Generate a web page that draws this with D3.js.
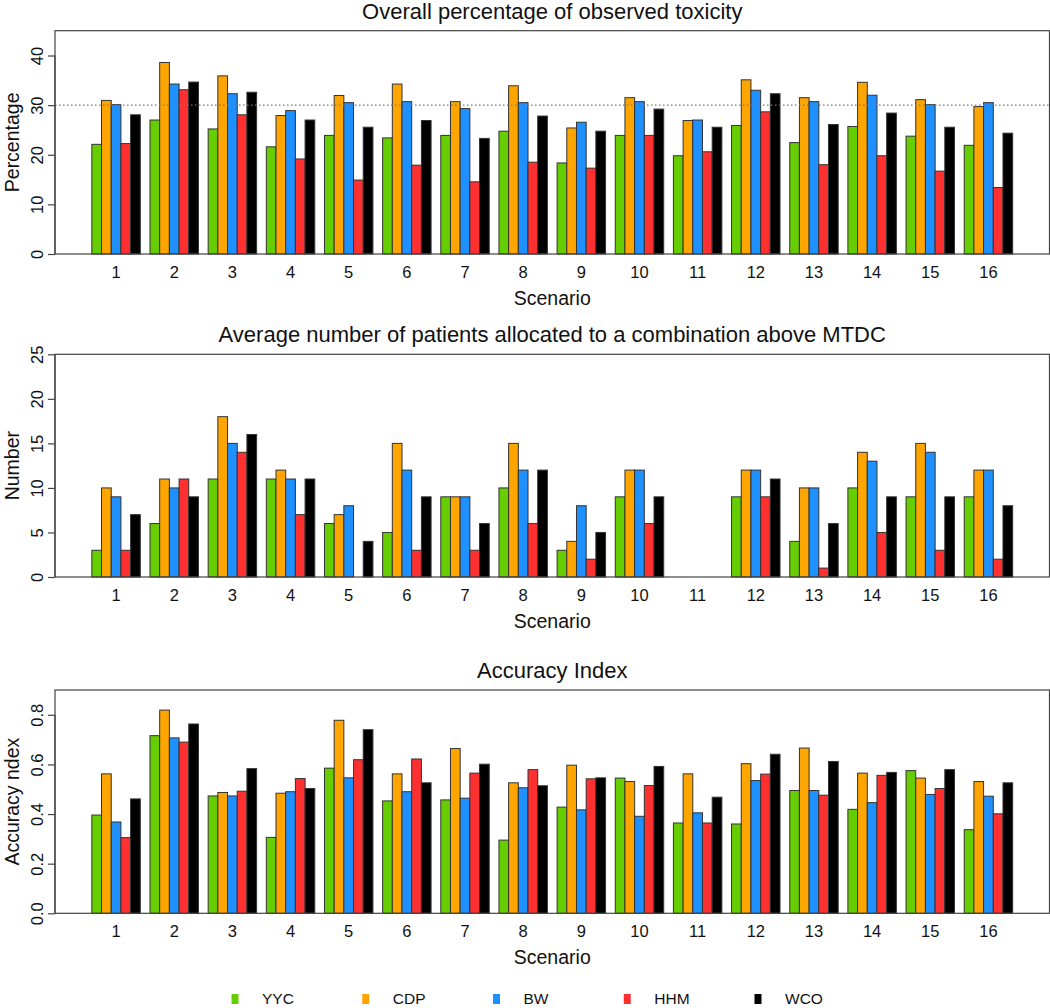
<!DOCTYPE html>
<html>
<head>
<meta charset="utf-8">
<script src="https://cdn.jsdelivr.net/npm/d3@7"></script>
<style>
  html, body { margin: 0; padding: 0; background: #fff; }
  svg { display: block; font-family: "Liberation Sans", Arial, Helvetica, sans-serif; }
</style>
</head>
<body>
<div id="chart"></div>
<script>
// ---------- data ----------
const scenarios = ["1","2","3","4","5","6","7","8","9","10","11","12","13","14","15","16"];
const seriesNames = ["YYC","CDP","BW","HHM","WCO"];
const seriesColors = ["#66CD00","#FFA500","#1E90FF","#FF3030","#000000"];

const toxYYC = [22.1,27.0,25.2,21.6,23.9,23.4,23.9,24.75,18.35,23.9,19.8,25.9,22.45,25.7,23.75,21.9];
const toxCDP = [30.95,38.6,35.9,27.9,31.95,34.25,30.7,33.9,25.4,31.5,26.9,35.1,31.5,34.6,31.1,29.7];
const toxBW  = [30.1,34.25,32.3,28.9,30.5,30.7,29.3,30.5,26.55,30.7,27.0,33.0,30.7,32.0,30.1,30.5];
const toxHHM = [22.25,33.1,28.05,19.15,14.9,17.9,14.55,18.5,17.3,23.9,20.6,28.65,18.0,19.8,16.7,13.4];
const toxWCO = [28.05,34.65,32.6,27.0,25.55,26.9,23.3,27.8,24.75,29.2,25.55,32.3,26.1,28.4,25.55,24.35];

const numYYC = [3,6,11,11,6,5,9,10,3,9,0,9,4,10,9,9];
const numCDP = [10,11,18,12,7,15,9,15,4,12,0,12,10,14,15,12];
const numBW  = [9,10,15,11,8,12,9,12,8,12,0,12,10,13,14,12];
const numHHM = [3,11,14,7,0,3,3,6,2,6,0,9,1,5,3,2];
const numWCO = [7,9,16,11,4,9,6,12,5,9,0,11,6,9,9,8];

const accYYC = [0.396,0.716,0.473,0.306,0.585,0.453,0.457,0.295,0.428,0.545,0.364,0.360,0.495,0.419,0.575,0.337];
const accCDP = [0.562,0.819,0.487,0.484,0.778,0.562,0.664,0.526,0.597,0.531,0.562,0.603,0.666,0.565,0.545,0.531];
const accBW  = [0.368,0.707,0.473,0.490,0.546,0.490,0.464,0.506,0.417,0.391,0.405,0.535,0.495,0.446,0.479,0.472];
const accHHM = [0.305,0.690,0.492,0.543,0.619,0.622,0.565,0.579,0.542,0.515,0.364,0.561,0.476,0.556,0.503,0.401];
const accWCO = [0.461,0.763,0.583,0.503,0.740,0.526,0.601,0.514,0.546,0.592,0.468,0.641,0.612,0.568,0.579,0.526];

const toxTicks = [0,10,20,30,40];
const numTicks = [0,5,10,15,20,25];
const accTicks = [0,0.2,0.4,0.6,0.8];

const panels = [
  { title: "Overall percentage of observed toxicity", ylab: "Percentage", ymax: 45,
    ticks: toxTicks, fmt: d3.format("d"), series: [toxYYC,toxCDP,toxBW,toxHHM,toxWCO],
    top: 30.7, bottom: 254, refLine: 30 },
  { title: "Average number of patients allocated to a combination above MTDC", ylab: "Number", ymax: 25,
    ticks: numTicks, fmt: d3.format("d"), series: [numYYC,numCDP,numBW,numHHM,numWCO],
    top: 354.3, bottom: 577, refLine: null },
  { title: "Accuracy Index", ylab: "Accuracy ndex", ymax: 0.9,
    ticks: accTicks, fmt: d3.format(".1f"), series: [accYYC,accCDP,accBW,accHHM,accWCO],
    top: 690, bottom: 913.3, refLine: null }
];

// ---------- layout ----------
const W = 1050, H = 1008;
const boxL = 55, boxR = 1049.5;
const svg = d3.select("#chart").append("svg").attr("width", W).attr("height", H);

const x = d3.scaleBand().domain(scenarios).range([boxL, boxR])
  .paddingInner(1/6).paddingOuter(3.8/6);
const xs = d3.scaleBand().domain(seriesNames).range([0, x.bandwidth()]).padding(0);
const color = d3.scaleOrdinal().domain(seriesNames).range(seriesColors);
const cx = (boxL + boxR) / 2;

panels.forEach(p => {
  const y = d3.scaleLinear().domain([0, p.ymax]).range([p.bottom, p.top]);
  const g = svg.append("g");

  // bars
  scenarios.forEach((sc, i) => {
    const grp = g.append("g").attr("transform", `translate(${x(sc)},0)`);
    seriesNames.forEach((s, k) => {
      const v = p.series[k][i];
      grp.append("rect")
        .attr("x", xs(s))
        .attr("y", y(v))
        .attr("width", xs.bandwidth())
        .attr("height", y(0) - y(v))
        .attr("fill", color(s))
        .attr("stroke", "#333")
        .attr("stroke-width", 1);
    });
  });

  // reference line
  if (p.refLine !== null) {
    g.append("line")
      .attr("x1", boxL).attr("x2", boxR)
      .attr("y1", y(p.refLine)).attr("y2", y(p.refLine))
      .attr("stroke", "#777").attr("stroke-width", 1.2)
      .attr("stroke-dasharray", "1.5,2.5");
  }

  // box
  g.append("rect")
    .attr("x", boxL).attr("y", p.top)
    .attr("width", boxR - boxL).attr("height", p.bottom - p.top)
    .attr("fill", "none").attr("stroke", "#444").attr("stroke-width", 1.2);

  // y axis
  const yAxis = d3.axisLeft(y).tickValues(p.ticks).tickFormat(p.fmt).tickSize(7).tickPadding(4);
  const ya = g.append("g").attr("transform", `translate(${boxL},0)`).call(yAxis);
  ya.select(".domain").attr("d", `M0,${y(p.ticks[0])}V${y(p.ticks[p.ticks.length-1])}`)
    .attr("stroke", "#444").attr("stroke-width", 1.2);
  ya.selectAll(".tick line").attr("stroke", "#444").attr("stroke-width", 1.2);
  ya.selectAll(".tick text")
    .attr("font-size", 16.5).attr("fill", "#111")
    .attr("transform", "rotate(-90)")
    .attr("x", 0).attr("y", -12).attr("dy", 0)
    .attr("text-anchor", "middle")
    .attr("font-family", "'Liberation Sans', Arial, sans-serif");

  // x axis (labels only)
  const xAxis = d3.axisBottom(x).tickSize(0).tickPadding(0);
  const xa = g.append("g").attr("transform", `translate(0,${p.bottom})`).call(xAxis);
  xa.select(".domain").remove();
  xa.selectAll(".tick text")
    .attr("font-size", 16.5).attr("fill", "#111")
    .attr("y", 24).attr("dy", 0)
    .attr("font-family", "'Liberation Sans', Arial, sans-serif");

  // axis titles
  g.append("text").attr("x", cx).attr("y", p.bottom + 51)
    .attr("text-anchor", "middle").attr("font-size", 19.5).attr("fill", "#111")
    .text("Scenario");
  g.append("text")
    .attr("transform", `translate(19,${(p.top + p.bottom) / 2}) rotate(-90)`)
    .attr("text-anchor", "middle").attr("font-size", 19.5).attr("fill", "#111")
    .text(p.ylab);

  // title
  g.append("text").attr("x", cx).attr("y", p.top - 12)
    .attr("text-anchor", "middle").attr("font-size", 22).attr("fill", "#111")
    .text(p.title);
});

// ---------- legend ----------
const legendX = d3.scalePoint().domain(seriesNames).range([235, 758]);
const lg = svg.append("g");
seriesNames.forEach(s => {
  lg.append("rect")
    .attr("x", legendX(s) - 3.5).attr("y", 994)
    .attr("width", 7).attr("height", 10)
    .attr("fill", color(s));
  lg.append("text")
    .attr("x", legendX(s) + 27).attr("y", 1004)
    .attr("font-size", 15.5).attr("fill", "#111")
    .text(s);
});
</script>
</body>
</html>
